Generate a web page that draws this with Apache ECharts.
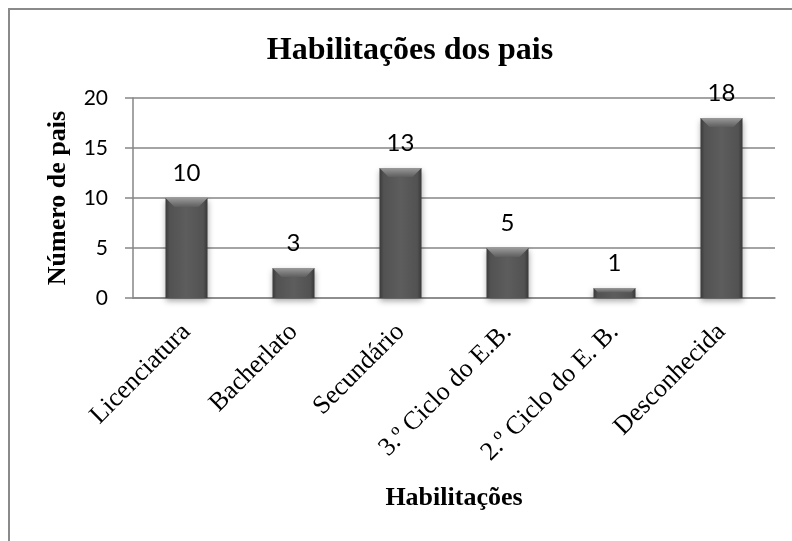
<!DOCTYPE html>
<html lang="pt">
<head>
    <meta charset="UTF-8"/>
    <title>Habilitações dos pais</title>
    <script src="https://cdn.jsdelivr.net/npm/echarts@6"></script>
    <style>
        body {
            margin: 0;
            background-color: #fff;
        }

        #chart {
            width: 792px;
            height: 541px;
        }
    </style>
</head>
<body>

<div id="chart"></div>

<script>
    // dados
    const categorias = ["Licenciatura", "Bacherlato", "Secundário", "3.º Ciclo do E.B.", "2.º Ciclo do E. B.", "Desconhecida"];
    const numeroPais = [10, 3, 13, 5, 1, 18];
    const yTicks = {min: 0, max: 20, interval: 5};

    const serif = "'Liberation Serif', 'Times New Roman', serif";
    const sans = "Lato, 'Liberation Sans', sans-serif";
    const barW = 42;

    // gradiente horizontal do corpo da barra (efeito cilindro)
    const bodyColor = new echarts.graphic.LinearGradient(0, 0, 1, 0, [
        {offset: 0, color: '#3a3a3a'},
        {offset: 0.1, color: '#525252'},
        {offset: 0.5, color: '#5d5d5d'},
        {offset: 0.9, color: '#525252'},
        {offset: 1, color: '#383838'}
    ]);

    // chanfro claro no topo de cada barra
    function renderBevel(params, api) {
        const top = api.coord([api.value(0), api.value(1)]);
        const base = api.coord([api.value(0), 0]);
        const h = base[1] - top[1];
        const b = Math.min(9, h * 0.45);
        const x0 = top[0] - barW / 2, x1 = top[0] + barW / 2;
        return {
            type: 'polygon',
            shape: {points: [[x0, top[1]], [x1, top[1]], [x1 - b, top[1] + b], [x0 + b, top[1] + b]]},
            style: {
                fill: new echarts.graphic.LinearGradient(0, 0, 0, 1, [
                    {offset: 0, color: '#9a9a9a'},
                    {offset: 1, color: '#5e5e5e'}
                ])
            }
        };
    }

    const chart = echarts.init(document.getElementById("chart"));
    chart.setOption({
        animation: false,
        title: {
            text: 'Habilitações dos pais',
            left: 405,
            textAlign: 'center',
            top: 30,
            textStyle: {fontFamily: serif, fontSize: 32, fontWeight: 'bold', color: '#000'}
        },
        grid: {left: 133, right: 17, top: 98, bottom: 243},
        xAxis: {
            type: 'category',
            data: categorias,
            name: 'Habilitações',
            nameLocation: 'middle',
            nameGap: 187,
            nameTextStyle: {fontFamily: serif, fontSize: 26, fontWeight: 'bold', color: '#000'},
            axisLine: {lineStyle: {color: '#868686', width: 1.5}},
            axisTick: {show: false},
            axisLabel: {
                rotate: 45,
                margin: 30,
                interval: 0,
                fontFamily: serif,
                fontSize: 26,
                color: '#000'
            }
        },
        yAxis: {
            type: 'value',
            min: yTicks.min,
            max: yTicks.max,
            interval: yTicks.interval,
            name: 'Número de pais',
            nameLocation: 'middle',
            nameRotate: 90,
            nameGap: 62,
            nameTextStyle: {fontFamily: serif, fontSize: 26, fontWeight: 'bold', color: '#000'},
            axisLine: {show: true, lineStyle: {color: '#868686', width: 1.5}},
            axisTick: {show: true, length: 8, lineStyle: {color: '#868686', width: 1.5}},
            axisLabel: {margin: 25, fontFamily: sans, fontSize: 21, color: '#000'},
            splitLine: {lineStyle: {color: '#868686', width: 1.5}}
        },
        graphic: [{
            type: 'polyline',
            shape: {points: [[9, 541], [9, 9], [792, 9]]},
            style: {stroke: '#8a8a8a', lineWidth: 2, fill: null}
        }],
        series: [
            {
                type: 'bar',
                data: numeroPais,
                barWidth: barW,
                itemStyle: {
                    color: bodyColor,
                    shadowColor: 'rgba(0,0,0,0.35)',
                    shadowBlur: 6,
                    shadowOffsetY: 3
                },
                label: {
                    show: true,
                    position: 'top',
                    distance: 13,
                    fontFamily: sans,
                    fontSize: 24,
                    color: '#000'
                }
            },
            {
                type: 'custom',
                renderItem: renderBevel,
                data: numeroPais.map((v, i) => [i, v]),
                silent: true,
                z: 3
            }
        ]
    });
</script>

</body>
</html>
